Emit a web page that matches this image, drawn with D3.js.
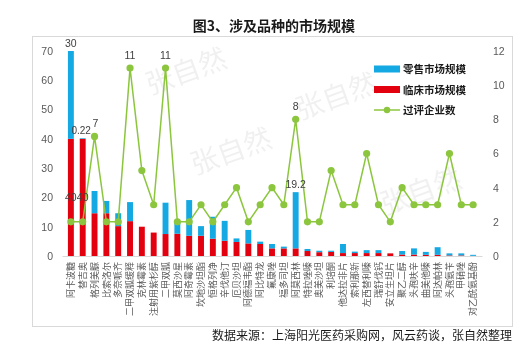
<!DOCTYPE html>
<html><head><meta charset="utf-8">
<script src="https://cdn.jsdelivr.net/npm/d3@7"></script>
<style>body{margin:0;background:#fff}svg{display:block}</style>
</head><body><svg id="c" width="523" height="345"></svg>
<script>
const categories = ["阿卡波糖","替吉奥","格列美脲","比索洛尔","多奈哌齐","二甲双胍缓释","克林霉素","注射用紫杉醇","二甲双胍","莫西沙星","阿奇霉素","坎地沙坦酯","恒格列净","辛伐他汀","厄贝沙坦","阿德福韦酯","阿比特龙","氟康唑","福多司坦","阿莫西林","特拉唑嗪","奥美沙坦","利培酮","他达拉非片","索利那新","左西替利嗪","瑞舒伐钙","安立生坦片","聚乙二醇","头孢呋辛","曲美他嗪","阿达帕林","头孢氨苄","甲硝唑","对乙酰氨基酚"];
const clinical = [40,40,14.6,14.6,10.2,11.9,10,8,7.5,7.6,6.9,6.9,5.9,5.2,4.8,4.3,4.1,2.6,2.6,2.6,1.7,1.3,1.4,1.0,1.0,1.0,1.0,0.9,0.5,0.5,0.4,0.4,0.2,0.2,0.05];
const retail = [30,0.22,7.6,4.2,4.4,6.5,0,0,10.7,3.8,12.2,3.3,7.5,6.8,1.2,4.6,0.8,1.5,0.6,19.2,0.7,0.5,0.4,3.1,0.5,1.0,1.0,0,1.2,2.1,1.0,2.6,0.7,0.7,0.35];
const firms = [2,2,7,2,2,11,5,3,11,2,2,3,2,3,4,2,3,4,3,8,2,2,5,3,3,6,3,2,4,3,3,3,6,3,3];
const clinicalLabelIdx = [0,1];
const retailLabelIdx = [0,1,19];
const firmsLabelIdx = [2,5,8,19];
const leftTicks = [0,10,20,30,40,50,60,70];
const rightTicks = [0,2,4,6,8,10,12];
const legendNames = ["零售市场规模","临床市场规模","过评企业数"];
const title = "图3、涉及品种的市场规模";
const source = "数据来源：上海阳光医药采购网，风云药谈，张自然整理";
const watermark = "张自然";

const BLUE = "#14a9e3", RED = "#e3000f", GREEN = "#8cc63e";
const svg = d3.select("#c");
const font = "Arial, 'Noto Sans CJK SC', sans-serif";

// watermarks (faint, in empty areas)
const wm = svg.append("g").attr("fill","#000").attr("opacity",0.06)
  .attr("font-family","'Noto Sans CJK SC', sans-serif").attr("font-size",28);
[[150,95],[195,175],[300,120],[385,215]].forEach(([x,y])=>{
  wm.append("text").attr("transform",`translate(${x},${y}) rotate(-20)`).text(watermark);
});

// frame
svg.append("rect").attr("x",32.5).attr("y",36.5).attr("width",480).attr("height",290)
  .attr("fill","none").attr("stroke","#d9d9d9");

svg.append("text").attr("x",274).attr("y",31).attr("text-anchor","middle")
  .attr("font-family","'Noto Sans CJK SC', sans-serif").attr("font-weight","bold")
  .attr("font-size",14).attr("fill","#1a1a1a").text(title);

const x = d3.scaleBand().domain(categories).range([62,482]).padding(0.5);
const yL = d3.scaleLinear().domain([0,70]).range([256,51]);
const yR = d3.scaleLinear().domain([0,12]).range([256,51]);

// axes
const gl = svg.append("g").attr("transform","translate(62,0)")
  .call(d3.axisLeft(yL).tickValues(leftTicks).tickSize(0).tickPadding(9));
gl.select(".domain").remove();
gl.selectAll("text").attr("font-family",font).attr("font-size",10.5).attr("fill","#595959");
const gr = svg.append("g").attr("transform","translate(482,0)")
  .call(d3.axisRight(yR).tickValues(rightTicks).tickSize(0).tickPadding(11));
gr.select(".domain").remove();
gr.selectAll("text").attr("font-family",font).attr("font-size",10.5).attr("fill","#595959");

// bars
const bars = svg.append("g");
bars.selectAll(".r").data(categories).join("rect")
  .attr("x",d=>x(d)).attr("width",x.bandwidth())
  .attr("y",(d,i)=>yL(clinical[i])).attr("height",(d,i)=>yL(0)-yL(clinical[i]))
  .attr("fill",RED);
bars.selectAll(".b").data(categories).join("rect")
  .attr("x",d=>x(d)).attr("width",x.bandwidth())
  .attr("y",(d,i)=>yL(clinical[i]+retail[i])).attr("height",(d,i)=>yL(clinical[i])-yL(clinical[i]+retail[i]))
  .attr("fill",BLUE);

const gx = svg.append("g").attr("transform","translate(0,256)")
  .call(d3.axisBottom(x).tickSize(0).tickPadding(0));
gx.select(".domain").attr("stroke","#d9d9d9");
gx.selectAll("text").attr("font-family","'Noto Sans CJK SC', sans-serif").attr("font-size",9)
  .attr("fill","#595959").attr("text-anchor","end")
  .attr("transform","translate(0,6) rotate(-90)").attr("dx",0).attr("dy","0.35em").attr("y",0);

// line
const cx = d => x(d) + x.bandwidth()/2;
svg.append("path").datum(categories)
  .attr("d",d3.line().x(d=>cx(d)).y((d,i)=>yR(firms[i])))
  .attr("fill","none").attr("stroke",GREEN).attr("stroke-width",1.5);
svg.append("g").selectAll("circle").data(categories).join("circle")
  .attr("cx",d=>cx(d)).attr("cy",(d,i)=>yR(firms[i])).attr("r",3.6).attr("fill",GREEN);

// data labels
const lab = svg.append("g").attr("font-family",font).attr("font-size",10.5).attr("fill","#404040").attr("text-anchor","middle");
clinicalLabelIdx.forEach(i=>{
  lab.append("text").attr("x",cx(categories[i])).attr("y",yL(clinical[i]/2)+4).text(clinical[i]);
});
retailLabelIdx.forEach(i=>{
  lab.append("text").attr("x",cx(categories[i])-(i===1?1.5:0)).attr("y",yL(clinical[i]+retail[i])-4)
    .attr("font-size",i===1?10:10.5).text(retail[i]);
});
firmsLabelIdx.forEach(i=>{
  lab.append("text").attr("x",cx(categories[i])+(i===2?1:0)).attr("y",yR(firms[i])-9).text(firms[i]);
});

// legend
const lg = svg.append("g").attr("font-family","'Noto Sans CJK SC', sans-serif").attr("font-size",10.5)
  .attr("font-weight","bold").attr("fill","#1a1a1a");
[0,1,2].forEach(k=>{
  const yy = 69 + k*20.5;
  if(k<2){
    lg.append("rect").attr("x",374).attr("y",yy-3.5).attr("width",26).attr("height",7).attr("fill",k===0?BLUE:RED);
  } else {
    lg.append("line").attr("x1",374).attr("x2",400).attr("y1",yy).attr("y2",yy).attr("stroke",GREEN).attr("stroke-width",1.5);
    lg.append("circle").attr("cx",387).attr("cy",yy).attr("r",3.2).attr("fill",GREEN);
  }
  lg.append("text").attr("x",403).attr("y",yy+4).text(legendNames[k]);
});

svg.append("text").attr("x",512).attr("y",340).attr("text-anchor","end")
  .attr("font-family","'Noto Sans CJK SC', serif").attr("font-size",12).attr("fill","#1a1a1a").text(source);
</script></body></html>
